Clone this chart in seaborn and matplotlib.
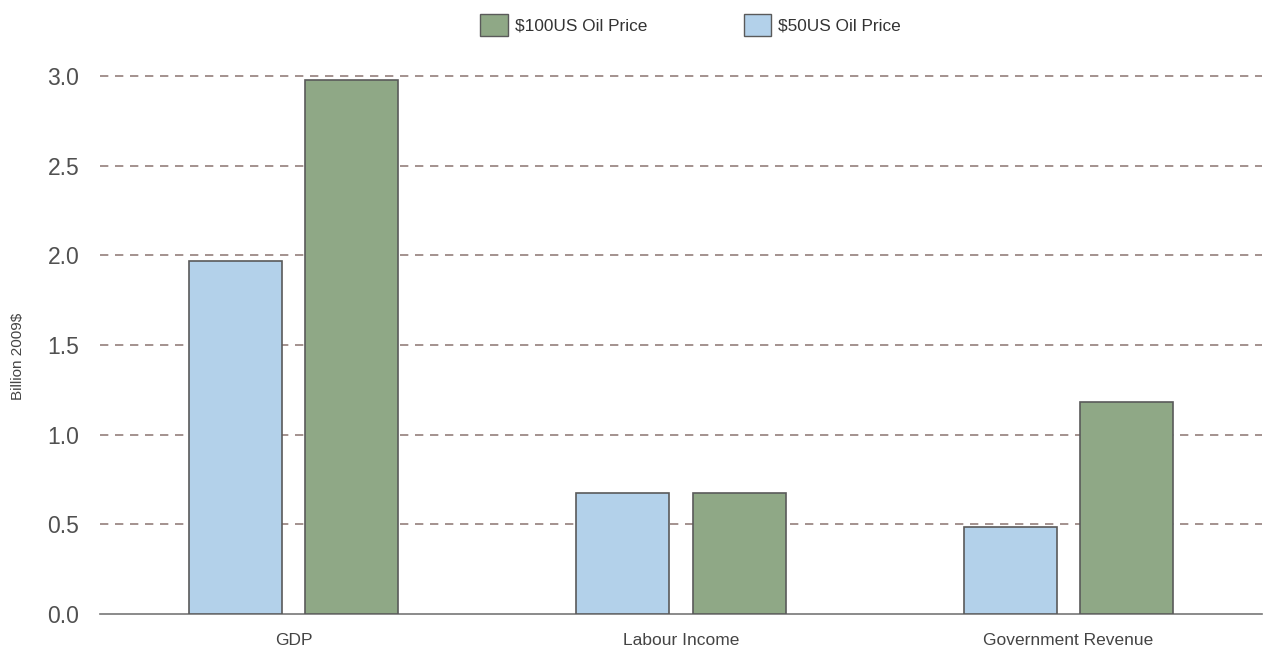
import matplotlib
matplotlib.use("Agg")
import matplotlib.pyplot as plt
import seaborn as sns
import pandas as pd
from matplotlib.patches import Patch

categories = ["GDP", "Labour Income", "Government Revenue"]
series_names = ["$50US Oil Price", "$100US Oil Price"]
values_50 = [1.97, 0.675, 0.485]
values_100 = [2.98, 0.675, 1.18]
yticks = [0.0, 0.5, 1.0, 1.5, 2.0, 2.5, 3.0]

colors = {"$50US Oil Price": "#b3d1ea", "$100US Oil Price": "#8fa886"}

df = pd.DataFrame({
    "category": categories * 2,
    "series": [series_names[0]] * 3 + [series_names[1]] * 3,
    "value": values_50 + values_100,
})

sns.set_style("white")
plt.rcParams["font.family"] = ["Liberation Sans", "DejaVu Sans"]

fig = plt.figure(figsize=(12.65, 6.52), dpi=100)
ax = fig.add_axes([100 / 1265, 1 - 614 / 652, 1162 / 1265, 547 / 652])

sns.barplot(data=df, x="category", y="value", hue="series", order=categories,
            hue_order=series_names, palette=colors, saturation=1, width=0.6, gap=0.2,
            edgecolor="#5a5a5a", linewidth=1.2, ax=ax, legend=False, zorder=3)

ax.set_xlim(-0.5, 2.5)
ax.set_ylim(0, 3.05)
ax.set_yticks(yticks)
ax.set_yticklabels([f"{t:.1f}" for t in yticks], fontsize=16.5, color="#505050")
for t in yticks[1:]:
    ax.axhline(t, color="#937f7b", linestyle=(0, (5, 4)), linewidth=1.2, zorder=1)

ax.tick_params(axis="y", length=0, pad=15)
ax.tick_params(axis="x", length=0, pad=14, labelsize=12.5, labelcolor="#444444")
ax.set_xlabel("")
ax.set_ylabel("")
fig.text(18 / 1265, 1 - 356 / 652, "Billion 2009$", rotation=90, ha="center", va="center",
         fontsize=11, color="#444444")
for s in ["left", "right", "top"]:
    ax.spines[s].set_visible(False)
ax.spines["bottom"].set_color("#777777")
ax.spines["bottom"].set_linewidth(1.2)

handles = [Patch(facecolor=colors["$100US Oil Price"], edgecolor="#5a5a5a", label="$100US Oil Price"),
           Patch(facecolor=colors["$50US Oil Price"], edgecolor="#5a5a5a", label="$50US Oil Price")]
fig.legend(handles=handles, loc="center", bbox_to_anchor=(0.546, 1 - 25 / 652), ncol=2,
           frameon=False, fontsize=12.4, handlelength=1.6, handleheight=1.6,
           columnspacing=5.6, handletextpad=0.4, labelcolor="#333333")

fig.savefig("out.png", dpi=100)
